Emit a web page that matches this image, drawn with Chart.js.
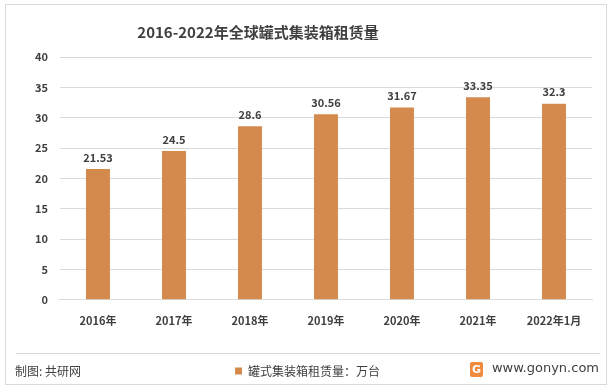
<!DOCTYPE html>
<html>
<head>
<meta charset="utf-8">
<script src="https://cdn.jsdelivr.net/npm/chart.js@4"></script>
<style>
  html, body { margin: 0; padding: 0; background: #fff; }
  #wrap { width: 612px; height: 390px; position: relative; }
</style>
</head>
<body>
<div id="wrap"><canvas id="myChart" width="612" height="390"></canvas></div>
<script>
const labels = ['2016年', '2017年', '2018年', '2019年', '2020年', '2021年', '2022年1月']
const leaseVolume = [21.53, 24.5, 28.6, 30.56, 31.67, 33.35, 32.3]
const valueText = ['21.53', '24.5', '28.6', '30.56', '31.67', '33.35', '32.3']
const seriesName = '罐式集装箱租赁量：万台'
const titleText = '2016-2022年全球罐式集装箱租赁量'

const barColor = '#D48A4C'
const textColor = '#404040'
const fontFam = '"Noto Sans CJK SC", "Noto Sans", sans-serif'

// frame, title, footer, value labels
const decor = {
  id: 'decor',
  beforeDraw(chart) {
    const c = chart.ctx
    c.save()
    c.fillStyle = '#fff'
    c.fillRect(0, 0, chart.width, chart.height)
    c.strokeStyle = '#D9D9D9'
    c.lineWidth = 1
    c.strokeRect(5.5, 4.5, 601, 380)
    c.beginPath()
    c.moveTo(16, 353.5)
    c.lineTo(600, 353.5)
    c.stroke()
    c.restore()
  },
  afterDatasetsDraw(chart) {
    const c = chart.ctx
    c.save()
    // title
    c.fillStyle = textColor
    c.font = 'bold 15px ' + fontFam
    c.textAlign = 'center'
    c.textBaseline = 'middle'
    c.fillText(titleText, 258, 32)

    // values above bars
    c.font = 'bold 11px ' + fontFam
    c.textBaseline = 'bottom'
    const meta = chart.getDatasetMeta(0)
    meta.data.forEach((bar, i) => {
      c.fillText(valueText[i], bar.x, bar.y - 6)
    })

    // footer
    c.font = '12px ' + fontFam
    c.textAlign = 'left'
    c.textBaseline = 'middle'
    c.fillText('制图: 共研网', 15, 371)
    c.font = '13px "DejaVu Sans", sans-serif'
    c.textAlign = 'right'
    c.fillText('www.gonyn.com', 599, 369)
    // small logo
    c.fillStyle = '#F08A3C'
    c.beginPath()
    c.roundRect(470, 362, 13, 15, 2)
    c.fill()
    c.fillStyle = '#fff'
    c.font = 'bold 11px "DejaVu Sans", sans-serif'
    c.textAlign = 'center'
    c.fillText('G', 476.5, 370)
    c.restore()
  }
}

const ctx = document.getElementById('myChart').getContext('2d')
const myChart = new Chart(ctx, {
  type: 'bar',
  data: {
    labels: labels,
    datasets: [{
      label: seriesName,
      data: leaseVolume,
      backgroundColor: barColor,
      borderWidth: 0,
      barPercentage: 0.63,
      categoryPercentage: 0.5
    }]
  },
  options: {
    responsive: false,
    animation: false,
    devicePixelRatio: 1,
    layout: { padding: { top: 57, left: 23, right: 20, bottom: 3 } },
    plugins: {
      title: { display: false },
      tooltip: { enabled: false },
      legend: {
        position: 'bottom',
        align: 'center',
        labels: {
          boxWidth: 7,
          boxHeight: 7,
          padding: 8,
          color: textColor,
          font: { size: 12, family: fontFam }
        }
      }
    },
    scales: {
      x: {
        grid: { display: false },
        border: { display: true, color: '#D9D9D9' },
        ticks: { color: textColor, font: { size: 11, weight: 'bold', family: fontFam }, padding: 6, maxRotation: 0 },
        afterFit(scale) { scale.height += 24 }
      },
      y: {
        min: 0,
        max: 40,
        grid: { color: '#D9D9D9', drawTicks: false },
        border: { display: false },
        ticks: { stepSize: 5, color: textColor, font: { size: 11, weight: 'bold', family: fontFam }, padding: 12 }
      }
    }
  },
  plugins: [decor]
})
</script>
</body>
</html>
